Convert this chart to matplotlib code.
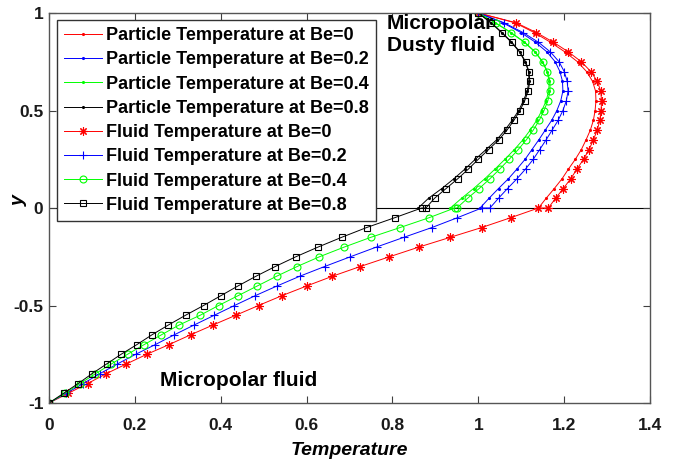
import matplotlib
matplotlib.use('Agg')
import matplotlib.pyplot as plt

plt.rcParams['font.family'] = ['Liberation Sans', 'DejaVu Sans']
plt.rcParams['font.weight'] = 'bold'

# ---------------- data ----------------
be_labels = ['0', '0.2', '0.4', '0.8']

y_lower = [-1.00, -0.95, -0.90, -0.85, -0.80, -0.75, -0.70, -0.65, -0.60, -0.55, -0.50,
           -0.45, -0.40, -0.35, -0.30, -0.25, -0.20, -0.15, -0.10, -0.05, 0.00]
y_upper = [0.00, 0.05, 0.10, 0.15, 0.20, 0.25, 0.30, 0.35, 0.40, 0.45, 0.50,
           0.55, 0.60, 0.65, 0.70, 0.75, 0.80, 0.85, 0.90, 0.95, 1.00]

# fluid temperature, micropolar fluid region (y in [-1, 0])
fluid_low_be0 = [0.000, 0.045, 0.090, 0.133, 0.180, 0.228, 0.280, 0.330, 0.382, 0.435, 0.488,
                 0.542, 0.600, 0.660, 0.725, 0.793, 0.862, 0.935, 1.008, 1.075, 1.140]
fluid_low_be02 = [0.000, 0.040, 0.080, 0.118, 0.159, 0.202, 0.248, 0.292, 0.338, 0.385, 0.432,
                  0.480, 0.531, 0.584, 0.642, 0.702, 0.763, 0.827, 0.892, 0.951, 1.008]
fluid_low_be04 = [0.000, 0.037, 0.073, 0.108, 0.145, 0.183, 0.222, 0.262, 0.303, 0.352, 0.395,
                  0.440, 0.485, 0.530, 0.578, 0.630, 0.688, 0.750, 0.818, 0.885, 0.945]
fluid_low_be08 = [0.000, 0.034, 0.068, 0.100, 0.134, 0.168, 0.205, 0.240, 0.278, 0.318, 0.360,
                  0.400, 0.440, 0.482, 0.527, 0.575, 0.627, 0.682, 0.740, 0.805, 0.868]

# fluid temperature, micropolar dusty fluid region (y in [0, 1])
fluid_up_be0 = [1.163, 1.180, 1.198, 1.215, 1.230, 1.245, 1.258, 1.268, 1.277, 1.283, 1.286,
                1.287, 1.285, 1.277, 1.262, 1.240, 1.210, 1.175, 1.135, 1.088, 1.000]
fluid_up_be02 = [1.027, 1.047, 1.068, 1.090, 1.110, 1.128, 1.143, 1.158, 1.172, 1.186, 1.197,
                 1.205, 1.209, 1.207, 1.200, 1.188, 1.168, 1.140, 1.104, 1.060, 1.000]
fluid_up_be04 = [0.950, 0.975, 1.002, 1.027, 1.050, 1.072, 1.093, 1.112, 1.128, 1.142, 1.153,
                 1.162, 1.167, 1.167, 1.161, 1.150, 1.133, 1.108, 1.076, 1.040, 1.000]
fluid_up_be08 = [0.878, 0.898, 0.925, 0.952, 0.977, 1.000, 1.024, 1.048, 1.067, 1.083, 1.097,
                 1.108, 1.116, 1.120, 1.118, 1.110, 1.097, 1.078, 1.055, 1.030, 1.000]

# particle temperature (y in [0, 1])
particle_be0 = [1.140, 1.158, 1.177, 1.195, 1.210, 1.226, 1.240, 1.251, 1.261, 1.268, 1.272,
                1.274, 1.273, 1.266, 1.252, 1.231, 1.202, 1.168, 1.130, 1.085, 1.000]
particle_be02 = [1.004, 1.025, 1.047, 1.070, 1.090, 1.109, 1.125, 1.141, 1.156, 1.171, 1.183,
                 1.192, 1.197, 1.196, 1.190, 1.179, 1.160, 1.133, 1.099, 1.057, 1.000]
particle_be04 = [0.935, 0.961, 0.989, 1.015, 1.039, 1.062, 1.084, 1.104, 1.121, 1.136, 1.148,
                 1.158, 1.164, 1.165, 1.160, 1.149, 1.132, 1.107, 1.075, 1.039, 1.000]
particle_be08 = [0.860, 0.884, 0.915, 0.943, 0.969, 0.993, 1.018, 1.043, 1.062, 1.079, 1.094,
                 1.105, 1.114, 1.118, 1.117, 1.109, 1.096, 1.077, 1.054, 1.029, 1.000]

x_ticks = [0, 0.2, 0.4, 0.6, 0.8, 1.0, 1.2, 1.4]
x_ticklabels = ['0', '0.2', '0.4', '0.6', '0.8', '1', '1.2', '1.4']
y_ticks = [-1, -0.5, 0, 0.5, 1]
y_ticklabels = ['-1', '-0.5', '0', '0.5', '1']

fluid_low = [fluid_low_be0, fluid_low_be02, fluid_low_be04, fluid_low_be08]
fluid_up = [fluid_up_be0, fluid_up_be02, fluid_up_be04, fluid_up_be08]
particle = [particle_be0, particle_be02, particle_be04, particle_be08]

colors = ['#ff0000', '#0000ff', '#00ff00', '#000000']
fluid_markers = [(8, 2, 0), '+', 'o', 's']
fluid_msizes = [6, 6, 5, 4.5]

# ---------------- figure ----------------
fig = plt.figure(figsize=(6.77, 4.61), dpi=100)
ax = fig.add_axes([0.0724, 0.1258, 0.8878, 0.846])

for i, be in enumerate(be_labels):
    ax.plot(particle[i], y_upper, color=colors[i], lw=0.7, marker='.', ms=2.5,
            label=f'Particle Temperature at Be={be}')

for i, be in enumerate(be_labels):
    ax.plot(fluid_low[i] + fluid_up[i], y_lower + y_upper, color=colors[i], lw=0.7,
            marker=fluid_markers[i], ms=fluid_msizes[i], mfc='none', mew=0.8,
            label=f'Fluid Temperature at Be={be}')

ax.axhline(0, color='black', lw=0.8, zorder=1)

ax.set_xlim(0, 1.4)
ax.set_ylim(-1, 1)
ax.set_xticks(x_ticks)
ax.set_xticklabels(x_ticklabels)
ax.set_yticks(y_ticks)
ax.set_yticklabels(y_ticklabels)
ax.tick_params(direction='in', top=True, right=True, length=5, width=0.8,
               labelsize=12.5, colors='#404040', labelcolor='#1a1a1a')
ax.tick_params(axis='x', pad=11)
ax.tick_params(axis='y', pad=4)
for lab in ax.get_xticklabels() + ax.get_yticklabels():
    lab.set_fontweight('bold')
for sp in ax.spines.values():
    sp.set_color('#555555')
    sp.set_linewidth(1.0)

ax.set_xlabel('Temperature', fontsize=14, fontweight='bold', fontstyle='italic', labelpad=6)
ax.set_ylabel('y', fontsize=14, fontweight='bold', fontstyle='italic')
ax.yaxis.set_label_coords(-0.035, 0.52)

ax.text(0.787, 0.89, 'Micropolar\nDusty fluid', fontsize=15, fontweight='bold',
        ha='left', va='center', linespacing=1.15)
ax.text(0.259, -0.887, 'Micropolar fluid', fontsize=15, fontweight='bold',
        ha='left', va='center')

leg = ax.legend(loc='upper left', bbox_to_anchor=(0.013, 0.982), borderaxespad=0,
                prop={'weight': 'bold', 'size': 13}, numpoints=1,
                handlelength=2.1, handletextpad=0.22, labelspacing=0.4,
                borderpad=0.4, fancybox=False, framealpha=1, edgecolor='#333333')
leg.get_frame().set_linewidth(1.0)

fig.savefig('out.png', dpi=100)
